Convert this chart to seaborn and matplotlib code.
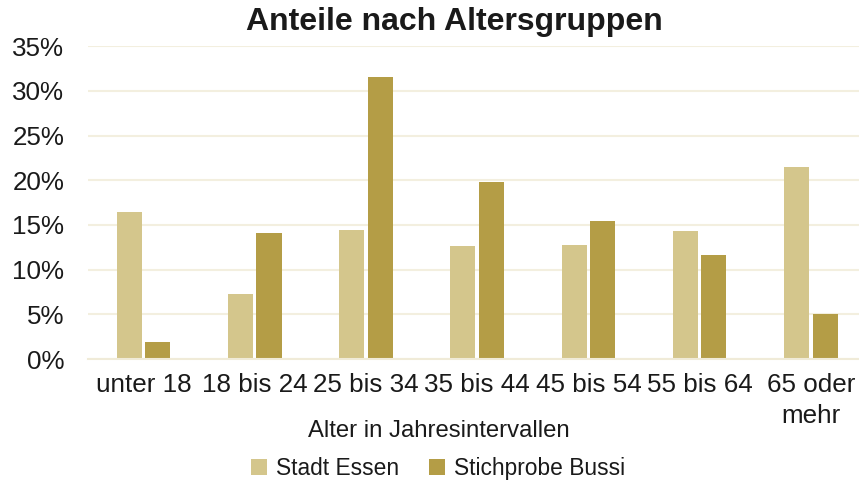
import pandas as pd
import matplotlib.pyplot as plt
import seaborn as sns
from matplotlib.ticker import PercentFormatter

kategorien = ['unter 18', '18 bis 24', '25 bis 34', '35 bis 44', '45 bis 54', '55 bis 64', '65 oder\nmehr']
stadt_essen = [16.4, 7.3, 14.4, 12.6, 12.8, 14.3, 21.5]
stichprobe_bussi = [1.9, 14.1, 31.5, 19.8, 15.4, 11.6, 5.0]
serien = ['Stadt Essen', 'Stichprobe Bussi']
farben = ['#D4C68C', '#B49D46']

df = pd.DataFrame({
    'Alter': kategorien * 2,
    'Anteil': stadt_essen + stichprobe_bussi,
    'Gruppe': [serien[0]] * len(kategorien) + [serien[1]] * len(kategorien),
})

sns.set_style('white')
plt.rcParams['font.family'] = ['Liberation Sans', 'DejaVu Sans']

fig = plt.figure(figsize=(8.59, 4.82), dpi=100)
ax = fig.add_axes([0.1024, 0.255, 0.8976, 0.6494])

sns.barplot(data=df, x='Alter', y='Anteil', hue='Gruppe', palette=farben, saturation=1,
            width=0.512, gap=0.12, ax=ax, edgecolor='none', legend=True)

ax.set_ylim(0, 35)
ax.set_xlim(-0.5, 6.433)
ax.set_yticks(range(0, 36, 5))
ax.yaxis.set_major_formatter(PercentFormatter(decimals=0))
ax.grid(axis='y', color='#F3EFDF', linewidth=1.5)
ax.set_axisbelow(True)
for s in ['top', 'right', 'left']:
    ax.spines[s].set_visible(False)
ax.spines['bottom'].set_color('#F0EBD8')
ax.spines['bottom'].set_linewidth(1.5)

ax.tick_params(axis='y', length=0, pad=17, labelsize=18.7, colors='#1a1a1a')
ax.tick_params(axis='x', length=0, pad=10, labelsize=18.7, colors='#1a1a1a')
for t in ax.get_xticklabels():
    t.set_linespacing(1.35)

ax.set_xlabel('Alter in Jahresintervallen', fontsize=17.2, color='#1a1a1a')
ax.xaxis.set_label_coords(0.455, -0.195)
ax.set_ylabel('')
fig.suptitle('Anteile nach Altersgruppen', x=454 / 859, y=1 - 22 / 482, va='center',
             fontsize=23, fontweight='bold', color='#1a1a1a')

ax.legend(loc='lower center', bbox_to_anchor=(0.454, -0.415), ncol=2, frameon=False,
          fontsize=16.4, handlelength=0.7, handleheight=0.7, handletextpad=0.4,
          columnspacing=1.3, borderaxespad=0, labelcolor='#1a1a1a')

fig.savefig('out.png', dpi=100)
